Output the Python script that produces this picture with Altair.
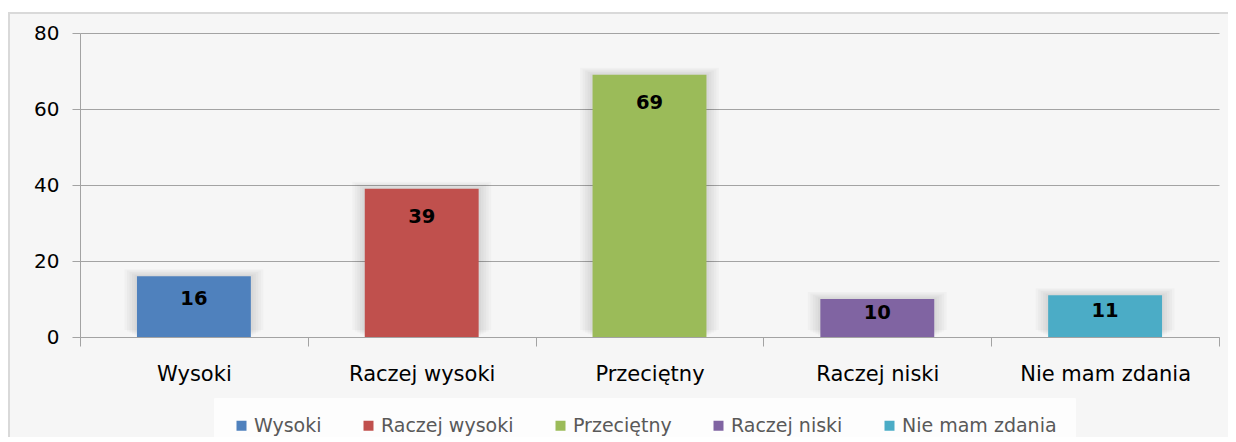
import altair as alt
import pandas as pd

categories = ["Wysoki", "Raczej wysoki", "Przeciętny", "Raczej niski", "Nie mam zdania"]
values = [16, 39, 69, 10, 11]
colors = ["#4f81bd", "#c0504d", "#9bbb59", "#8064a2", "#4bacc6"]
y_ticks = [0, 20, 40, 60, 80]

df = pd.DataFrame({"kategoria": categories, "wartosc": values})

W, H = 1139, 304
FONT = "DejaVu Sans"
GRID = "#a3a3a3"

x_enc = alt.X(
    "kategoria:N",
    sort=categories,
    scale=alt.Scale(paddingInner=0, paddingOuter=0),
    axis=alt.Axis(
        title=None, labelAngle=0, tickBand="extent", ticks=True, tickSize=9,
        tickColor=GRID, domainColor=GRID, labelPadding=17, labelFontSize=21,
        labelFont=FONT, labelColor="#000000", grid=False,
    ),
)
y_enc = alt.Y(
    "wartosc:Q",
    scale=alt.Scale(domain=[0, 80]),
    axis=alt.Axis(
        values=y_ticks, title=None, tickSize=8, tickColor=GRID, domainColor=GRID,
        gridColor=GRID, labelPadding=13, labelFontSize=20, labelFont=FONT,
        labelColor="#000000",
    ),
)

base = alt.Chart(df)
frame_data = alt.Data(values=[{"k": 1}])

top_strip = alt.Chart(frame_data).mark_rect(fill="white", clip=False).encode(
    x=alt.value(-80), x2=alt.value(W + 40), y=alt.value(-30), y2=alt.value(-21)
)
border = alt.Chart(frame_data).mark_rect(
    fill=None, stroke="#d9d9d9", strokeWidth=2, clip=False
).encode(x=alt.value(-71), x2=alt.value(W + 60), y=alt.value(-20), y2=alt.value(H + 160))

shadows = [
    base.mark_bar(width=alt.RelativeBandSize(0.5 + 0.022 * i), yOffset=-1.4 * i,
                  color="#000000", opacity=0.025)
    .encode(x=x_enc, y=y_enc)
    for i in (1, 2, 3, 4, 5)
]

bars = base.mark_bar(width=alt.RelativeBandSize(0.5)).encode(
    x=x_enc,
    y=y_enc,
    color=alt.Color(
        "kategoria:N",
        sort=categories,
        scale=alt.Scale(domain=categories, range=colors),
        legend=alt.Legend(
            title=None, orient="none", direction="horizontal",
            legendX=134, legendY=365, symbolType="square", symbolSize=100,
            symbolStrokeWidth=0, labelFont=FONT, labelFontSize=19,
            labelColor="#595959", labelOffset=3, columnPadding=37,
            padding=18, fillColor="#fdfdfd", strokeColor="#fdfdfd",
        ),
    ),
)

labels = base.transform_calculate(
    pos="max(datum.wartosc - 7.4, datum.wartosc * 0.62)"
).mark_text(
    font=FONT, fontSize=19.5, fontWeight="bold", color="#000000", baseline="middle"
).encode(
    x=alt.X("kategoria:N", sort=categories),
    y=alt.Y("pos:Q"),
    text=alt.Text("wartosc:Q"),
)

chart = alt.layer(top_strip, border, *shadows, bars, labels).properties(
    width=W,
    height=H,
    padding={"left": 72, "top": 25, "right": 9, "bottom": 100},
    autosize=alt.AutoSizeParams(type="none"),
    background="#f6f6f6",
).configure_view(stroke=None)

chart.save("out.html", embed_options={"renderer": "svg", "actions": False})
